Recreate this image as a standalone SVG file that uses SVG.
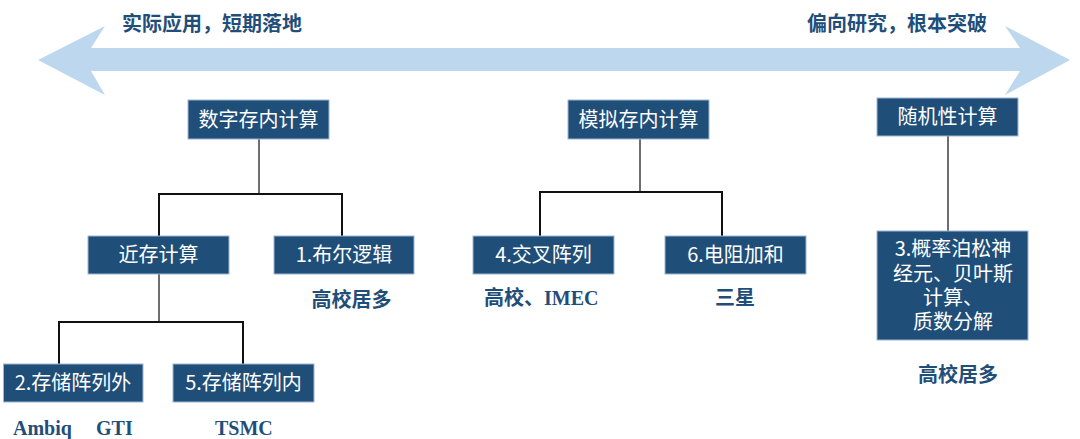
<svg xmlns="http://www.w3.org/2000/svg" width="1080" height="439" viewBox="0 0 1080 439">
<style>
.box{fill:#1f4e79;stroke:#9fb6d3;stroke-width:1}
.bt{font-family:"Noto Sans CJK SC","Noto Sans",sans-serif;font-size:20px;fill:#ffffff;text-anchor:middle}
.lbl{font-family:"Noto Sans CJK SC",sans-serif;font-size:20px;font-weight:bold;fill:#1f4e79;text-anchor:middle}
.ser{font-family:"Liberation Serif","Noto Sans CJK SC",serif;font-size:20px;font-weight:bold;fill:#1f4e79}
.stem{stroke:#6e6e6e;stroke-width:2;fill:none}
.br{stroke:#111111;stroke-width:2;fill:none}
</style>
<rect width="1080" height="439" fill="#ffffff"/>
<g id="axis">
<polygon points="38,60 105,26 91,48 1020,48 1005,26 1070,60 1005,95 1020,71 91,71 105,95" fill="#bdd7ee"/>
<text class="lbl" x="212" y="31">实际应用，短期落地</text>
<text class="lbl" x="897" y="31">偏向研究，根本突破</text>
</g>
<g id="connectors">
<path class="stem" d="M259,139 V194"/>
<path class="br" d="M159,236 V194 H342 V236"/>
<path class="stem" d="M159,274 V322"/>
<path class="br" d="M59,364 V322 H243 V364"/>
<path class="stem" d="M640,139 V192"/>
<path class="br" d="M540,236 V192 H722 V236"/>
<path class="stem" d="M948,136 V231"/>
</g>
<g id="n-digital"><rect class="box" x="188" y="100" width="141" height="39"/><text class="bt" x="258.5" y="126.5">数字存内计算</text></g>
<g id="n-near"><rect class="box" x="88" y="236" width="141" height="38"/><text class="bt" x="158.5" y="262">近存计算</text></g>
<g id="n-bool"><rect class="box" x="274" y="236" width="140" height="38"/><text class="bt" x="344" y="262">1.布尔逻辑</text></g>
<g id="n-outside"><rect class="box" x="3.5" y="364" width="139.5" height="38"/><text class="bt" x="73" y="390">2.存储阵列外</text></g>
<g id="n-inside"><rect class="box" x="173" y="364" width="141" height="38"/><text class="bt" x="243.5" y="390">5.存储阵列内</text></g>
<g id="n-analog"><rect class="box" x="568" y="100" width="141" height="39"/><text class="bt" x="638.5" y="126.5">模拟存内计算</text></g>
<g id="n-cross"><rect class="box" x="473" y="236" width="141" height="38"/><text class="bt" x="543.5" y="262">4.交叉阵列</text></g>
<g id="n-res"><rect class="box" x="665" y="236" width="141" height="38"/><text class="bt" x="735.5" y="262">6.电阻加和</text></g>
<g id="n-random"><rect class="box" x="877" y="98" width="141" height="38"/><text class="bt" x="947.5" y="124">随机性计算</text></g>
<g id="n-prob"><rect class="box" x="877" y="231" width="151" height="109"/>
<text class="bt"><tspan x="953" y="256">3.概率泊松神</tspan><tspan x="953" y="280.5">经元、贝叶斯</tspan><tspan x="953" y="305">计算、</tspan><tspan x="953" y="329">质数分解</tspan></text></g>
<g id="labels">
<text class="lbl" x="351.5" y="307">高校居多</text>
<text class="ser" x="484" y="305">高校、IMEC</text>
<text class="lbl" x="735" y="305">三星</text>
<text class="lbl" x="958" y="382">高校居多</text>
<text class="ser" x="13" y="435">Ambiq</text>
<text class="ser" x="96" y="435">GTI</text>
<text class="ser" x="215" y="435">TSMC</text>
</g>
</svg>
